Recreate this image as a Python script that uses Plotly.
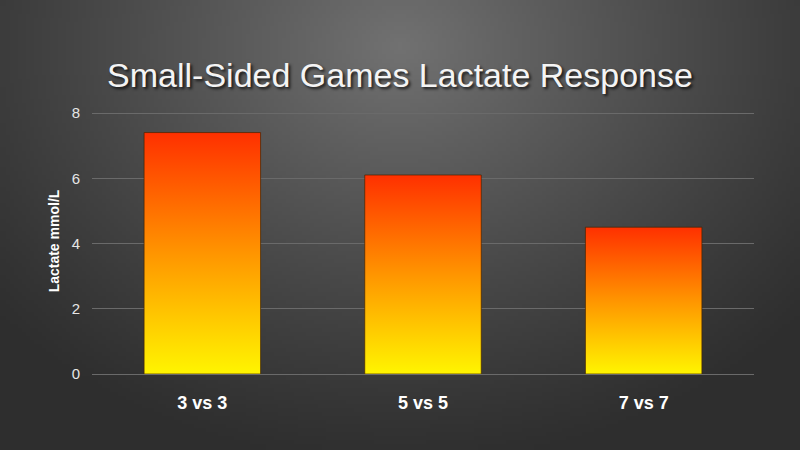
import base64
import struct
import zlib
import plotly.graph_objects as go

categories = ["3 vs 3", "5 vs 5", "7 vs 7"]
lactate = [7.4, 6.1, 4.5]
y_ticks = [0, 2, 4, 6, 8]

W, H = 800, 450
L, R, T, B = 92, 46, 108, 76
BAR_HALF = 0.264
# 8 units span 261 px; leave a few px above 8 so its gridline is drawn
Y_MAX = (H - T - B) / (261 / 8)

BAR_SCALE = [[0, "#fff500"], [0.5, "#ff9500"], [1, "#ff3000"]]


def radial_png(w=200, h=112):
    """Small grey radial-gradient PNG (stdlib only) for the slide background."""
    rows = b""
    for j in range(h):
        row = b"\x00"
        for i in range(w):
            dx = (i / (w - 1) * W - 400) / 540
            dy = (j / (h - 1) * H - 45) / 430
            r = min(1.0, (dx * dx + dy * dy) ** 0.5)
            v = int(46 + 68 * (1 - r) ** 1.15)
            row += bytes((v, v, v))
        rows += row

    def chunk(tag, data):
        c = struct.pack(">I", len(data)) + tag + data
        return c + struct.pack(">I", zlib.crc32(tag + data) & 0xffffffff)

    png = b"\x89PNG\r\n\x1a\n"
    png += chunk(b"IHDR", struct.pack(">IIBBBBB", w, h, 8, 2, 0, 0, 0))
    png += chunk(b"IDAT", zlib.compress(rows, 9))
    png += chunk(b"IEND", b"")
    return "data:image/png;base64," + base64.b64encode(png).decode()


fig = go.Figure()
for i, (cat, v) in enumerate(zip(categories, lactate)):
    fig.add_trace(go.Scatter(
        x=[i - BAR_HALF, i - BAR_HALF, i + BAR_HALF, i + BAR_HALF, i - BAR_HALF],
        y=[0, v, v, 0, 0], mode="lines", fill="toself", name=cat,
        line=dict(color="rgba(70,35,0,0.7)", width=1),
        fillgradient=dict(type="vertical", colorscale=BAR_SCALE),
        showlegend=False, hovertemplate=f"{cat}: {v} mmol/L<extra></extra>",
    ))

pw, ph = W - L - R, H - T - B
fig.update_layout(
    width=W, height=H,
    margin=dict(l=L, r=R, t=T, b=B),
    paper_bgcolor="#2e2e2e", plot_bgcolor="rgba(0,0,0,0)",
    font=dict(family="Liberation Sans, Arial, sans-serif", color="white"),
    title=dict(text="Small-Sided Games Lactate Response",
               x=0.5, xanchor="center", y=1 - 75 / H, yanchor="middle",
               font=dict(size=34, color="#f4f4f4",
                         shadow="2px 2px 3px rgba(0,0,0,0.75)")),
    images=[dict(source=radial_png(), xref="paper", yref="paper",
                 x=-L / pw, y=1 + T / ph, sizex=W / pw, sizey=H / ph,
                 xanchor="left", yanchor="top", sizing="stretch",
                 layer="below")],
    xaxis=dict(range=[-0.5, 2.5], tickvals=list(range(len(categories))),
               ticktext=categories, showgrid=False, zeroline=False,
               showline=False, ticks="outside", ticklen=12,
               tickcolor="rgba(0,0,0,0)", fixedrange=True,
               tickfont=dict(size=18, color="white",
                             family="Liberation Sans, Arial", weight="bold")),
    yaxis=dict(range=[0, Y_MAX], tickvals=y_ticks, showgrid=True,
               gridcolor="#6a6a6a", gridwidth=1, zeroline=True,
               zerolinecolor="#6a6a6a", zerolinewidth=1,
               showline=False, ticks="outside", ticklen=8,
               tickcolor="rgba(0,0,0,0)", fixedrange=True,
               tickfont=dict(size=15, color="#e6e6e6"),
               title=dict(text="Lactate mmol/L", standoff=8,
                          font=dict(size=14, color="white", weight="bold"))),
)

fig.write_html("out.html", config={"displayModeBar": False},
               post_script="document.body.style.margin='0';")
